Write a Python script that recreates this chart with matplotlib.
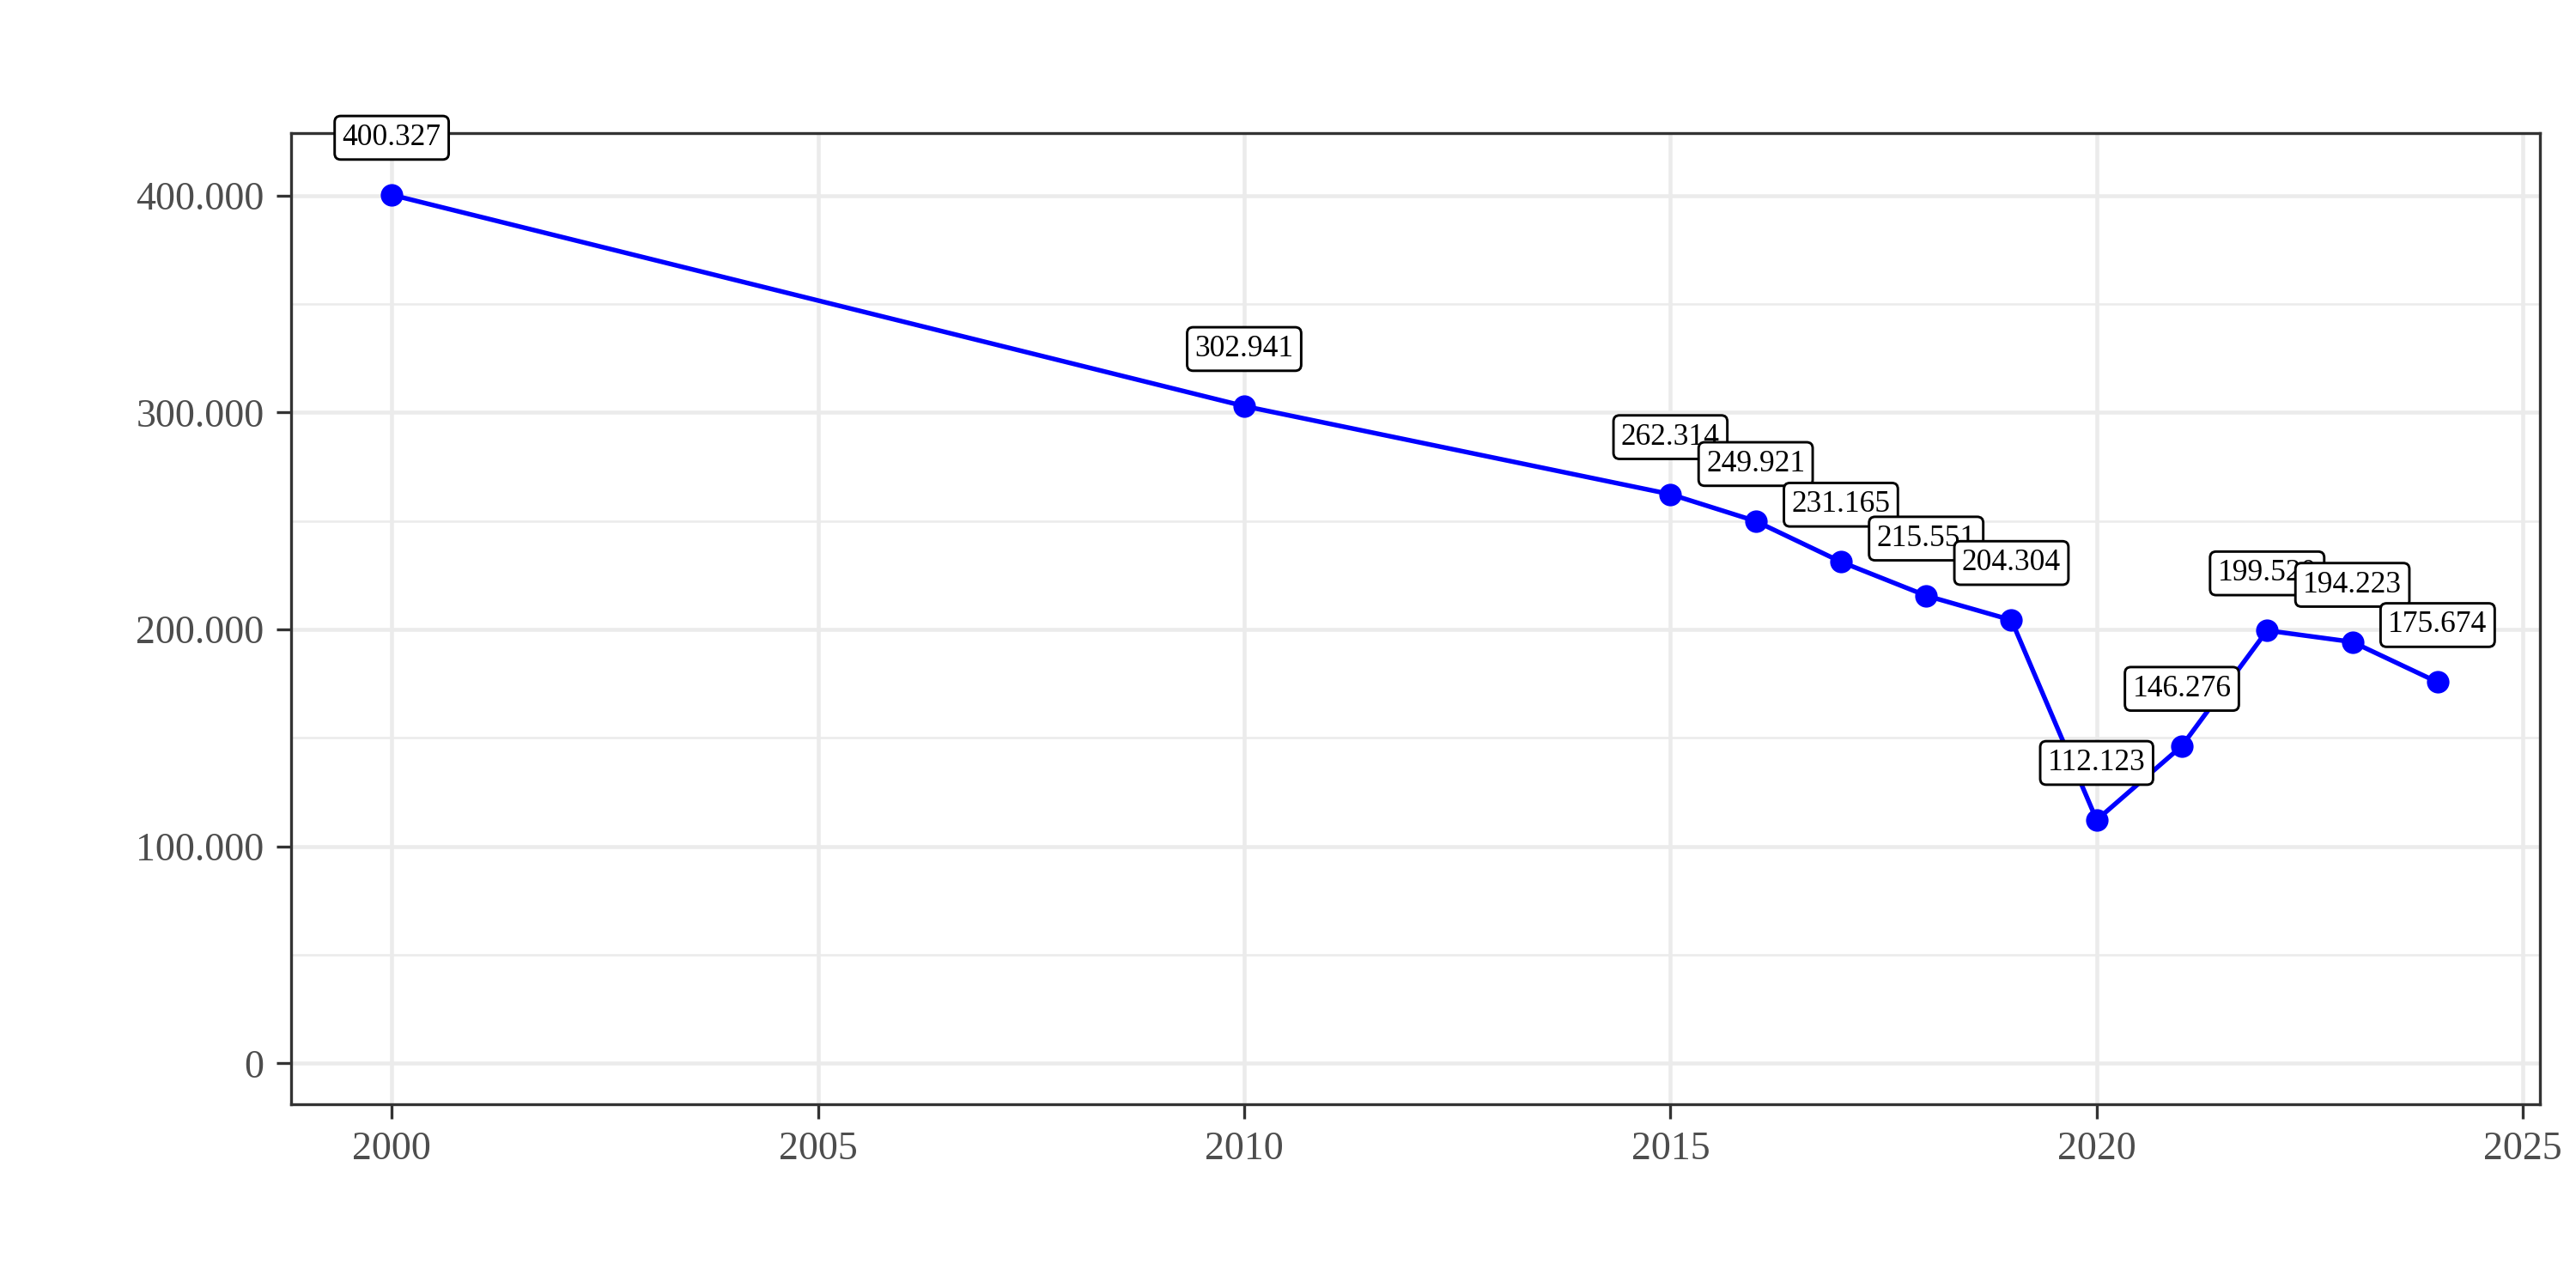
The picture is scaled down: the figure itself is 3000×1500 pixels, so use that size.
import matplotlib.pyplot as plt
from matplotlib.ticker import FuncFormatter

years = [2000, 2010, 2015, 2016, 2017, 2018, 2019, 2020, 2021, 2022, 2023, 2024]
values = [400327, 302941, 262314, 249921, 231165, 215551, 204304,
          112123, 146276, 199520, 194223, 175674]

plt.rcParams['font.family'] = ['Liberation Serif', 'DejaVu Serif']

fig = plt.figure(figsize=(10, 5), dpi=300)
ax = fig.add_axes([339 / 3000, 1 - 1286 / 1500, (2958 - 339) / 3000, (1286 - 155) / 1500])

ax.plot(years, values, color='blue', lw=1.3, zorder=3)
ax.scatter(years, values, color='blue', s=28, zorder=4)

for x, y in zip(years, values):
    lab = f"{y / 1000:.3f}"
    ax.annotate(lab, (x, y), xytext=(0, 12), textcoords='offset points',
                ha='center', va='bottom', fontsize=8.5, zorder=5,
                bbox=dict(boxstyle='round,pad=0.25,rounding_size=0.2',
                          fc='white', ec='black', lw=0.7))

ax.set_xlim(1998.82, 2025.2)
ax.set_ylim(-18900, 428800)
ax.set_xticks([2000, 2005, 2010, 2015, 2020, 2025])
ax.set_yticks([0, 100000, 200000, 300000, 400000])
ax.set_yticks([50000, 150000, 250000, 350000], minor=True)
ax.set_xticks([2002.5, 2007.5, 2012.5, 2017.5, 2022.5], minor=True)
ax.yaxis.set_major_formatter(FuncFormatter(lambda v, p: '0' if v == 0 else f"{int(v):,}".replace(',', '.')))

ax.grid(True, which='major', color='#ebebeb', lw=1.1)
ax.grid(True, which='minor', axis='y', color='#ebebeb', lw=0.6)
ax.set_axisbelow(True)
for s in ax.spines.values():
    s.set_color('#333333')
    s.set_linewidth(0.8)
ax.tick_params(axis='both', which='major', labelsize=11, colors='#333333',
               labelcolor='#4d4d4d', length=4, width=0.8)
ax.tick_params(which='minor', length=0)

fig.savefig('out.png')
